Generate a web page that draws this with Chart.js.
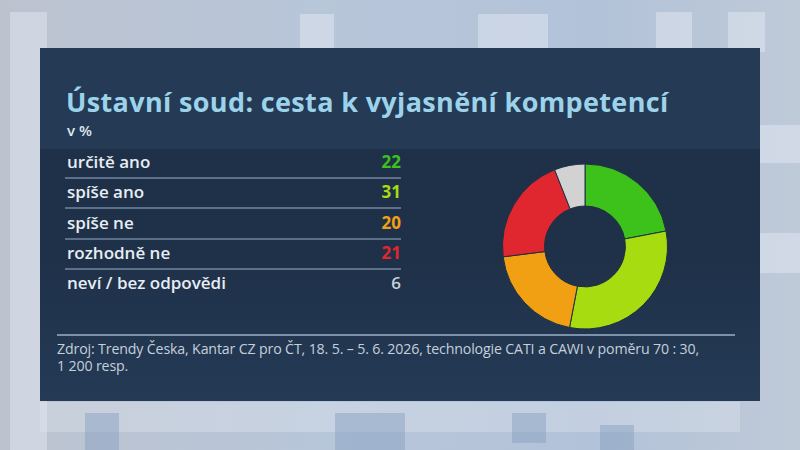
<!DOCTYPE html>
<html>
<head>
<meta charset="utf-8">
<script src="https://cdn.jsdelivr.net/npm/chart.js@4.4.1/dist/chart.umd.min.js"></script>
<style>
  html, body { margin: 0; padding: 0; }
  body {
    width: 800px; height: 450px; overflow: hidden; position: relative;
    background: linear-gradient(90deg, #bcc3cf 0%, #b8c6da 40%, #b2c2d8 75%, #bfcad8 100%);
    font-family: "Open Sans", "Noto Sans", sans-serif;
  }
  .deco { position: absolute; background: rgba(225, 232, 242, 0.5); }
  .deco.blue { background: rgba(130, 158, 190, 0.45); }
  #panel {
    position: absolute; left: 40px; top: 48px; width: 720px; height: 353px;
    background: linear-gradient(180deg, #1e3048 0%, #1f3149 60%, #243a55 100%);
    overflow: hidden;
  }
  #head {
    position: absolute; left: 0; top: 0; width: 720px; height: 101px;
    background: #243a55;
  }
  #title {
    position: absolute; left: 26px; top: 35px; margin: 0;
    font-size: 27px; font-weight: 700; color: #9dd3ea; white-space: nowrap;
    letter-spacing: 0.35px;
  }
  #unit {
    position: absolute; left: 27px; top: 72px;
    font-size: 15px; font-weight: 600; color: #dfe6ee;
  }
  .row {
    position: absolute; left: 25px; width: 336px; height: 30px;
    font-size: 17px; font-weight: 600; color: #e7edf3;
  }
  .row .lab { position: absolute; left: 2px; top: 3px; }
  .row .val { position: absolute; right: 0; top: 3px; font-weight: 700; }
  .sep { position: absolute; left: 25px; width: 336px; height: 2px; background: #5d7089; }
  #foot {
    position: absolute; left: 17px; top: 286px; width: 678px; height: 2px; background: #7d91aa;
  }
  .src {
    position: absolute; left: 17px; width: 700px; white-space: nowrap;
    font-size: 14.2px; line-height: 15px; height: 15px; color: #c5d0dc; letter-spacing: -0.15px;
  }
  #chartBox { position: absolute; left: 462px; top: 115px; width: 166px; height: 167px; }
</style>
</head>
<body>
<div class="deco" style="left:10px;top:12px;width:37px;height:440px;"></div>
<div class="deco" style="left:300px;top:14px;width:34px;height:40px;"></div>
<div class="deco" style="left:478px;top:14px;width:70px;height:40px;"></div>
<div class="deco" style="left:656px;top:12px;width:36px;height:42px;"></div>
<div class="deco" style="left:728px;top:12px;width:37px;height:40px;"></div>
<div class="deco" style="left:760px;top:125px;width:40px;height:38px;"></div>
<div class="deco" style="left:760px;top:233px;width:40px;height:40px;"></div>
<div class="deco" style="left:40px;top:402px;width:700px;height:30px;background:rgba(225,232,242,0.35);"></div>
<div class="deco blue" style="left:85px;top:413px;width:34px;height:40px;"></div>
<div class="deco blue" style="left:335px;top:413px;width:70px;height:40px;"></div>
<div class="deco blue" style="left:512px;top:413px;width:34px;height:30px;"></div>
<div class="deco blue" style="left:600px;top:425px;width:34px;height:25px;"></div>

<div id="panel">
  <div id="head"></div>
  <h1 id="title">Ústavní soud: cesta k vyjasnění kompetencí</h1>
  <div id="unit">v %</div>
  <div id="rows"></div>
  <div id="foot"></div>
  <div class="src" style="top:293px;">Zdroj: Trendy Česka, Kantar CZ pro ČT, 18. 5. – 5. 6. 2026, technologie CATI a CAWI v poměru 70 : 30,</div>
  <div class="src" style="top:310px;">1 200 resp.</div>
  <div id="chartBox"><canvas id="donut"></canvas></div>
</div>

<script>
const categories = ["určitě ano", "spíše ano", "spíše ne", "rozhodně ne", "neví / bez odpovědi"];
const values = [22, 31, 20, 21, 6];
const sliceColors = ["#3cc21a", "#a6dc10", "#f0a012", "#e0262f", "#d2d2d2"];
const valueColors = ["#3cc21a", "#a6dc10", "#f0a012", "#e0262f", "#c9d1db"];

const rowsEl = document.getElementById("rows");
const rowTop = 99;
const rowStep = 30.3;
categories.forEach((name, i) => {
  const row = document.createElement("div");
  row.className = "row";
  row.style.top = `${rowTop + i * rowStep}px`;
  const weight = i === categories.length - 1 ? 600 : 700;
  row.innerHTML = `<span class="lab">${name}</span><span class="val" style="color:${valueColors[i]};font-weight:${weight}">${values[i]}</span>`;
  rowsEl.appendChild(row);
  if (i < categories.length - 1) {
    const sep = document.createElement("div");
    sep.className = "sep";
    sep.style.top = `${rowTop + 30 + i * rowStep}px`;
    rowsEl.appendChild(sep);
  }
});

new Chart(document.getElementById("donut"), {
  type: "doughnut",
  data: {
    labels: categories,
    datasets: [{
      data: values,
      backgroundColor: sliceColors,
      borderColor: "#1f2f42",
      borderWidth: 1,
    }],
  },
  options: {
    responsive: true,
    maintainAspectRatio: false,
    animation: false,
    cutout: "49%",
    layout: { padding: 0 },
    plugins: {
      legend: { display: false },
      tooltip: { enabled: false },
    },
  },
});
</script>
</body>
</html>
